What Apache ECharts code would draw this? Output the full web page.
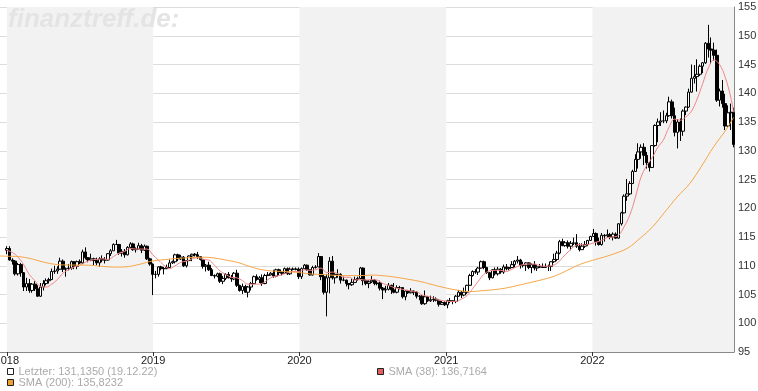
<!DOCTYPE html>
<html><head><meta charset="utf-8">
<script src="https://cdn.jsdelivr.net/npm/echarts@6.0.0/dist/echarts.min.js"></script>
<style>html,body{margin:0;padding:0;background:#fff}#c{width:758px;height:391px}</style>
</head><body><div id="c"></div>
<script>
// Weekly candles [open, close, low, high], one per week starting Monday 2018-01-01
const candles = [
// 2018
[112.7,113.0,112.0,113.4],[113.0,111.0,110.9,113.4],[111.0,110.8,110.2,111.3],[110.8,108.6,108.3,111.0],
[108.6,110.2,108.3,110.5],[110.2,108.8,108.1,110.5],[108.8,106.3,105.6,108.9],[106.3,106.9,105.6,107.9],
[106.9,105.7,105.3,107.7],[105.7,106.8,105.3,107.0],[106.8,106.0,105.6,107.3],[106.0,104.7,104.6,106.6],
[104.7,106.3,104.6,107.0],[106.3,106.9,105.7,107.5],[106.9,107.4,106.6,107.8],[107.4,107.6,106.9,107.9],
[107.6,109.0,107.5,109.5],[109.0,109.1,108.6,110.0],[109.1,109.4,108.6,109.9],[109.4,110.8,109.3,111.4],
[110.8,109.4,108.9,111.1],[109.4,109.5,108.1,109.7],[109.5,109.6,109.2,110.3],[109.6,110.7,109.3,110.9],
[110.7,109.9,109.4,110.8],[109.9,110.7,109.4,110.9],[110.7,110.5,110.3,111.1],[110.5,112.4,110.3,112.8],
[112.4,111.4,111.1,113.2],[111.4,111.0,110.6,111.5],[111.0,111.2,110.8,112.1],[111.2,110.9,110.1,111.4],
[110.9,110.5,110.1,111.4],[110.5,111.2,109.8,111.5],[111.2,111.0,110.6,111.8],[111.0,111.0,110.4,111.5],
[111.0,112.1,110.9,112.2],[112.1,112.6,111.7,112.9],[112.6,113.7,112.6,113.9],[113.7,113.7,113.6,114.5],
[113.7,112.2,111.9,113.8],[112.2,112.5,111.6,112.9],[112.5,111.9,111.4,112.9],[111.9,113.2,111.8,113.4],
[113.2,113.8,112.9,114.1],[113.8,112.8,112.6,114.0],[112.8,112.9,112.3,113.2],[112.9,113.5,112.9,114.0],
[113.5,112.7,112.2,113.8],[112.7,113.4,112.6,113.7],[113.4,111.2,111.0,113.5],[111.2,110.3,110.0,111.4],
// 2019
[110.3,108.5,104.9,110.4],[108.5,108.5,107.8,109.1],[108.5,109.8,108.1,109.9],[109.8,109.5,109.2,110.0],
[109.5,109.5,108.5,109.8],[109.5,109.7,109.4,110.2],[109.7,110.5,109.6,111.1],[110.5,110.7,110.3,110.9],
[110.7,111.9,110.4,112.1],[111.9,111.2,110.8,112.1],[111.2,111.5,111.0,111.9],[111.5,110.0,109.8,111.7],
[110.0,110.9,109.7,111.0],[110.9,111.7,110.8,111.8],[111.7,112.0,110.8,112.1],[112.0,111.9,111.6,112.2],
[111.9,111.6,111.2,112.4],[111.6,111.1,110.9,111.7],[111.1,109.9,109.5,111.2],[109.9,110.1,109.0,110.3],
[110.1,109.3,109.1,110.7],[109.3,108.3,108.2,109.6],[108.3,108.2,107.8,108.5],[108.2,108.6,108.0,108.8],
[108.6,107.3,107.0,108.8],[107.3,107.8,106.8,108.2],[107.8,108.5,107.5,108.7],[108.5,107.9,107.8,108.9],
[107.9,107.7,107.2,108.4],[107.7,108.7,107.5,108.9],[108.7,106.6,106.3,109.3],[106.6,105.7,105.5,106.7],
[105.7,106.4,105.1,106.9],[106.4,105.4,105.3,106.7],[105.4,106.3,104.5,106.5],[106.3,106.9,105.7,107.2],
[106.9,108.1,106.8,108.3],[108.1,107.6,107.4,108.5],[107.6,107.9,107.0,108.2],[107.9,106.9,106.5,108.5],
[106.9,108.3,106.8,108.6],[108.3,108.4,108.2,108.9],[108.4,108.7,108.3,108.9],[108.7,108.2,107.9,109.3],
[108.2,109.3,108.0,109.5],[109.3,108.8,108.3,109.5],[108.8,108.7,108.3,109.1],[108.7,109.5,108.7,109.7],
[109.5,108.6,108.4,109.7],[108.6,109.4,108.4,109.7],[109.4,109.4,109.2,109.7],[109.4,109.4,109.2,109.7],
// 2020
[109.4,108.1,107.7,109.7],[108.1,109.5,107.7,109.7],[109.5,110.1,109.5,110.3],[110.1,109.3,109.1,110.2],
[109.3,108.4,108.3,109.3],[108.4,109.7,108.3,110.0],[109.7,109.8,109.5,110.1],[109.8,111.6,109.8,112.2],
[111.6,108.1,107.5,111.7],[108.1,105.4,105.0,108.5],[105.4,107.9,101.2,108.5],[107.9,110.8,105.2,111.5],
[110.8,107.9,107.6,111.7],[107.9,108.5,106.9,108.7],[108.5,108.5,107.9,109.4],[108.5,107.5,106.9,108.7],
[107.5,107.5,107.3,108.1],[107.5,106.9,106.4,107.6],[106.9,106.7,105.9,107.0],[106.7,107.1,106.5,107.8],
[107.1,107.6,107.0,108.1],[107.6,107.8,107.4,108.1],[107.8,109.6,107.6,109.8],[109.6,107.4,106.6,109.7],
[107.4,106.9,106.6,107.6],[106.9,107.2,106.1,107.5],[107.2,107.5,107.0,108.2],[107.5,106.9,106.6,107.7],
[106.9,107.0,106.6,107.4],[107.0,106.1,105.7,107.4],[106.1,105.8,104.2,106.3],[105.8,105.9,105.3,106.5],
[105.9,106.6,105.7,107.0],[106.6,105.8,105.1,106.7],[105.8,105.4,105.2,107.0],[105.4,106.2,105.2,106.6],
[106.2,106.2,105.9,106.5],[106.2,104.6,104.3,106.3],[104.6,105.6,104.0,105.7],[105.6,105.3,105.1,105.8],
[105.3,105.6,105.2,106.1],[105.6,105.4,104.9,105.7],[105.4,104.7,104.3,105.6],[104.7,104.7,104.0,104.9],
[104.7,103.4,103.2,104.9],[103.4,104.6,103.2,105.7],[104.6,103.9,103.7,104.7],[103.9,104.1,103.7,104.8],
[104.1,104.2,103.7,104.7],[104.2,104.0,103.8,104.5],[104.0,103.3,102.9,104.1],[103.3,103.6,103.2,103.9],
// 2021
[103.6,103.2,103.0,103.8],[103.2,103.9,102.6,104.1],[103.9,103.9,103.5,104.4],[103.9,103.8,103.3,104.0],
[103.8,104.7,103.5,104.9],[104.7,105.4,104.6,105.8],[105.4,104.9,104.4,105.6],[104.9,105.4,104.7,106.2],
[105.4,106.6,105.1,106.7],[106.6,108.3,106.5,108.6],[108.3,109.0,108.1,109.2],[109.0,108.9,108.6,109.4],
[108.9,109.6,108.4,109.8],[109.6,110.7,109.5,110.9],[110.7,109.7,109.4,110.9],[109.7,108.8,108.6,109.8],
[108.8,107.9,107.5,108.9],[107.9,109.3,107.8,109.4],[109.3,108.6,108.3,109.7],[108.6,109.4,108.3,109.8],
[109.4,108.9,108.6,109.6],[108.9,109.8,108.6,110.2],[109.8,109.5,109.2,110.3],[109.5,109.7,109.2,109.8],
[109.7,110.2,109.6,110.8],[110.2,110.8,109.7,111.0],[110.8,111.0,110.4,111.7],[111.0,110.1,109.5,111.2],
[110.1,110.1,109.7,110.7],[110.1,110.5,109.1,110.6],[110.5,109.7,109.4,110.6],[109.7,110.2,108.7,110.4],
[110.2,109.6,109.2,110.8],[109.6,109.8,109.1,110.1],[109.8,109.8,109.6,110.3],[109.8,109.7,109.6,110.4],
[109.7,109.9,109.6,110.4],[109.9,109.9,109.1,110.2],[109.9,110.7,109.1,110.8],[110.7,111.1,110.5,112.1],
[111.1,112.2,110.8,112.6],[112.2,114.2,112.0,114.5],[114.2,113.5,113.4,114.7],[113.5,114.0,113.3,114.3],
[114.0,113.4,113.0,114.4],[113.4,113.9,112.7,114.3],[113.9,114.0,113.6,114.9],[114.0,113.4,113.1,115.5],
[113.4,112.8,112.5,113.9],[112.8,113.4,112.8,113.9],[113.4,113.7,113.1,114.3],[113.7,114.4,113.4,114.5],
// 2022
[114.4,115.1,114.3,115.2],[115.1,115.6,115.0,116.4],[115.6,114.2,113.5,115.8],[114.2,113.7,113.5,114.9],
[113.7,115.3,113.5,115.7],[115.3,115.2,114.2,115.5],[115.2,115.4,114.9,116.3],[115.4,115.0,114.6,115.7],
[115.0,115.5,114.4,115.8],[115.5,114.8,114.7,115.8],[114.8,117.3,114.7,117.4],[117.3,119.2,117.0,119.4],
[119.2,122.1,119.1,122.4],[122.1,122.5,121.3,125.1],[122.5,124.3,122.3,124.7],[124.3,126.4,124.2,126.7],
[126.4,128.5,126.3,129.4],[128.5,129.8,126.9,131.3],[129.8,130.6,128.6,131.1],[130.6,129.2,127.5,131.3],
[129.2,127.9,126.9,129.8],[127.9,127.1,126.4,128.0],[127.1,130.9,127.0,131.0],[130.9,134.4,130.7,134.6],
[134.4,135.0,131.5,135.6],[135.0,135.2,134.3,136.7],[135.2,135.2,134.8,137.0],[135.2,136.1,134.8,136.6],
[136.1,138.5,135.9,139.4],[138.5,136.1,135.6,138.9],[136.1,133.2,132.5,137.5],[133.2,135.0,130.4,135.5],
[135.0,133.4,131.7,135.6],[133.4,136.9,132.6,137.2],[136.9,137.6,136.2,137.7],[137.6,140.2,137.5,140.8],
[140.2,142.6,140.1,145.0],[142.6,142.9,141.7,144.9],[142.9,143.3,140.3,145.9],[143.3,144.7,143.0,145.0],
[144.7,145.3,143.5,145.4],[145.3,148.7,145.1,148.9],[148.7,147.7,146.2,151.9],[147.7,147.5,145.1,149.7],
[147.5,146.6,145.7,148.8],[146.6,138.8,138.5,147.6],[138.8,140.4,137.7,140.8],[140.4,138.2,137.5,142.3],
[138.2,134.3,133.6,139.9],[134.3,136.6,134.1,137.9],[136.6,136.7,133.6,138.2],[136.7,131.1,130.6,137.5]
];

// SMA (38), read every second week, plus the last week
const sma38 = [
112.7,112.3,111.5,110.2,108.5,107.4,106.4,106.3,106.8,107.6,
108.7,109.3,109.8,110.1,110.6,111.0,111.1,111.2,111.1,111.6,
112.2,112.5,113.0,112.9,112.9,112.9,111.9,111.0,110.1,109.5,
110.0,110.6,110.8,111.2,111.4,111.1,111.0,110.1,109.1,108.5,
108.0,107.9,107.4,106.8,106.8,106.8,107.2,107.9,108.2,108.4,
108.8,109.0,109.0,109.3,109.2,109.3,109.6,108.8,108.9,108.6,
108.0,108.0,107.5,107.6,107.5,107.6,107.5,106.9,106.6,106.2,
106.0,105.8,105.6,105.5,104.9,104.7,104.4,104.0,103.9,103.8,
103.8,104.2,104.8,106.0,107.3,108.5,109.1,109.2,109.2,109.0,
109.4,109.9,110.2,110.3,110.3,110.0,109.9,110.0,110.4,111.4,
112.4,113.3,113.7,113.6,113.8,114.1,114.4,114.9,115.0,115.3,
116.8,118.8,121.9,125.4,127.4,128.8,130.6,131.9,134.1,135.5,
135.3,135.9,136.9,139.0,141.7,144.4,145.8,145.0,142.8,139.3,
136.7
];

// SMA (200): left edge, then month ends Dec 2017 .. Nov 2022, then last day
const sma200 = [
111.7,
111.66,111.58,111.26,110.68,110.26,110.13,110.12,110.07,109.87,109.77,
109.86,110.28,110.84,111.07,111.26,111.39,111.49,111.37,111.01,110.57,
109.85,109.31,109.06,108.98,108.80,108.56,108.47,108.33,108.29,108.29,
108.37,108.25,107.98,107.63,107.22,106.67,106.14,105.73,105.51,105.65,
105.84,106.14,106.60,107.10,107.62,108.25,109.23,110.21,110.92,111.54,
112.18,113.12,114.80,116.78,119.30,121.94,124.24,127.32,130.77,133.63,
135.82
];

const yearLabels = [2018, 2019, 2020, 2021, 2022];
const shadedYears = [2018, 2020, 2022];
const nameLast = 'Letzter: 131,1350 (19.12.22)';
const name38 = 'SMA (38): 136,7164';
const name200 = 'SMA (200): 135,8232';

const xMin = new Date(2017, 11, 15).getTime();
const xMax = new Date(2022, 11, 20).getTime();
const weekDates = candles.map((_, i) => new Date(2018, 0, 1 + 7 * i).getTime());
const candleData = candles.map((d, i) => [weekDates[i], d[0], d[1], d[2], d[3]]);
const sma38Data = sma38.map((v, j) => [weekDates[j < 130 ? 2 * j : candles.length - 1], v]);
const sma200Dates = [xMin]
  .concat(Array.from({length: 60}, (_, m) => new Date(2018, m, 0).getTime()))
  .concat([new Date(2022, 11, 19).getTime()]);
const sma200Data = sma200.map((v, i) => [sma200Dates[i], v]);
const yearTicks = yearLabels.map(y => new Date(y, 0, 1).getTime());
const bands = shadedYears.map(y => [
  {xAxis: new Date(y, 0, 1).getTime()},
  {xAxis: Math.min(new Date(y + 1, 0, 1).getTime(), xMax)}
]);

const FONT = '"Liberation Sans", Arial, sans-serif';
const legendCommon = {
  icon: 'rect', itemWidth: 6, itemHeight: 6, padding: 0, selectedMode: false,
  itemStyle: {borderColor: '#222', borderWidth: 1},
  textStyle: {color: '#aaa', fontSize: 11, fontFamily: FONT}
};

const chart = echarts.init(document.getElementById('c'));
chart.setOption({
  animation: false,
  backgroundColor: '#fff',
  grid: {left: 0, right: 24, top: 7, bottom: 39, containLabel: false, outerBoundsMode: 'none'},
  graphic: [{
    type: 'text', left: 8, top: 7, z: 10, silent: true,
    style: {text: 'finanztreff.de:', font: 'italic bold 26px ' + FONT, fill: '#e4e4e4'}
  }],
  legend: [
    Object.assign({}, legendCommon, {left: 7, top: 366, data: [{name: nameLast, itemStyle: {color: '#fff'}}]}),
    Object.assign({}, legendCommon, {left: 377, top: 366, data: [{name: name38, itemStyle: {color: '#e06060'}}]}),
    Object.assign({}, legendCommon, {left: 7, top: 377, data: [{name: name200, itemStyle: {color: '#f0a030'}}]})
  ],
  xAxis: {
    type: 'value', min: xMin, max: xMax,
    axisLine: {show: true, onZero: false, lineStyle: {color: '#888', width: 1}},
    axisTick: {show: true, length: 4, lineStyle: {color: '#333'}, customValues: yearTicks},
    axisLabel: {
      color: '#222', fontSize: 11, fontFamily: FONT, margin: 3,
      customValues: yearTicks,
      formatter: v => String(new Date(v).getFullYear())
    },
    splitLine: {show: false}
  },
  yAxis: {
    type: 'value', position: 'right', min: 95, max: 155, interval: 5,
    axisLine: {show: true, lineStyle: {color: '#888', width: 1}},
    axisTick: {show: false},
    axisLabel: {color: '#333', fontSize: 11, fontFamily: FONT, margin: 4},
    splitLine: {show: true, lineStyle: {color: '#dcdcdc', width: 1}}
  },
  series: [
    {
      type: 'line', data: [], z: -1, silent: true,
      markArea: {silent: true, itemStyle: {color: '#f2f2f2'}, data: bands}
    },
    {
      name: nameLast, type: 'candlestick', data: candleData, barWidth: 3,
      encode: {x: 0, y: [1, 2, 3, 4]},
      itemStyle: {color: '#fff', color0: '#000', borderColor: '#000', borderColor0: '#000', borderWidth: 1}
    },
    {
      name: name38, type: 'line', data: sma38Data, showSymbol: false, smooth: 0.4, z: 3,
      lineStyle: {color: '#f28585', width: 1}, itemStyle: {color: '#e06060'}
    },
    {
      name: name200, type: 'line', data: sma200Data, showSymbol: false, smooth: 0.4, z: 3,
      lineStyle: {color: '#f5a545', width: 1}, itemStyle: {color: '#f0a030'}
    }
  ]
});
</script>
</body></html>
